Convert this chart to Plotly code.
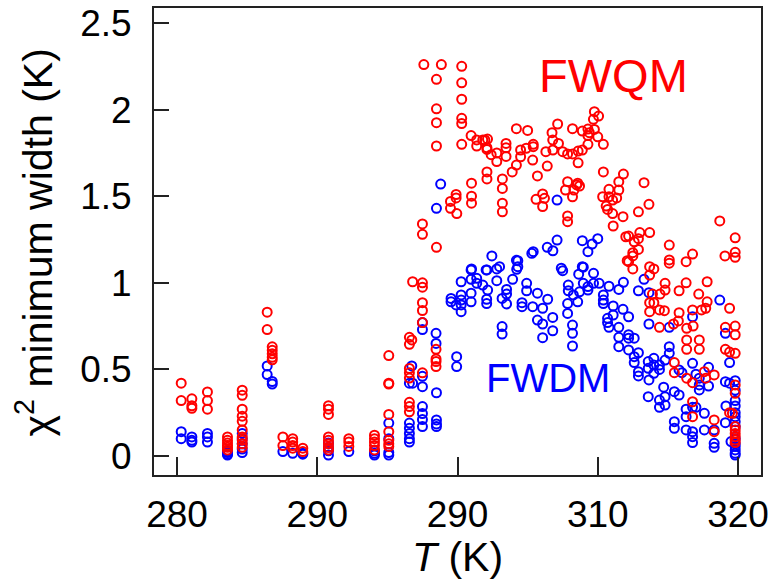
import plotly.graph_objects as go

# Tick labels (as printed on the reference)
x_tickvals = [280, 290, 300, 310, 320]
x_ticktext = ["280", "290", "290", "310", "320"]
y_tickvals = [0, 0.5, 1, 1.5, 2, 2.5]
y_ticktext = ["0", "0.5", "1", "1.5", "2", "2.5"]

# FWQM (red) points: (T, width)
fwqm_points = [
    (280.3, 0.42), (280.3, 0.32),
    (281.06, 0.33), (281.06, 0.29), (281.06, 0.275),
    (282.17, 0.37), (282.17, 0.32), (282.17, 0.27),
    (283.6, 0.11), (283.6, 0.09), (283.6, 0.075), (283.6, 0.06), (283.6, 0.05), (283.6, 0.035),
    (284.65, 0.38), (284.65, 0.35), (284.65, 0.27), (284.65, 0.23), (284.65, 0.20), (284.65, 0.15),
    (284.65, 0.11), (284.65, 0.09), (284.65, 0.07), (284.65, 0.05),
    (286.43, 0.83), (286.43, 0.73),
    (286.79, 0.63), (286.79, 0.61), (286.79, 0.59), (286.79, 0.57), (286.79, 0.555),
    (287.55, 0.11), (287.55, 0.06),
    (288.25, 0.10), (288.25, 0.08), (288.25, 0.06), (288.25, 0.045),
    (288.97, 0.045), (288.97, 0.025),
    (290.8, 0.29), (290.8, 0.27), (290.8, 0.24), (290.8, 0.11), (290.8, 0.09), (290.8, 0.07),
    (290.8, 0.05), (290.8, 0.035),
    (292.25, 0.10), (292.25, 0.08), (292.25, 0.055),
    (294.08, 0.12), (294.08, 0.10), (294.08, 0.08), (294.08, 0.06), (294.08, 0.035),
    (295.1, 0.58), (295.1, 0.42), (295.1, 0.415), (295.1, 0.24), (295.1, 0.14), (295.1, 0.09),
    (295.1, 0.07), (295.1, 0.055),
    (296.57, 0.685), (296.74, 0.67), (296.57, 0.645), (296.57, 0.505), (296.57, 0.48), (296.57, 0.45),
    (296.57, 0.31), (296.57, 0.285), (296.57, 0.255),
    (297.5, 0.885), (297.5, 0.84), (297.5, 0.77), (297.5, 0.48), (297.5, 0.975), (297.5, 1.0),
    (296.8, 1.006),
    (298.47, 0.616), (298.47, 0.56), (298.47, 0.545), (298.47, 0.516),
    (297.6, 2.26), (298.85, 2.26), (300.3, 2.25), (298.5, 2.175), (300.3, 2.155), (300.3, 2.06),
    (298.5, 2.005), (300.3, 1.95), (300.3, 1.92), (298.5, 1.925), (298.5, 1.79), (300.3, 1.80),
    (300.97, 1.85), (301.37, 1.825), (301.37, 1.79), (301.8, 1.825), (301.95, 1.825), (302.14, 1.83),
    (302.1, 1.78), (302.1, 1.77), (302.4, 1.74), (302.8, 1.75), (302.8, 1.70), (303.46, 1.805),
    (303.46, 1.78), (303.46, 1.73), (304.2, 1.89), (304.2, 1.68), (303.9, 1.64), (302.1, 1.64),
    (302.1, 1.60), (303.2, 1.60), (303.2, 1.545), (303.2, 1.46), (303.2, 1.41), (301.0, 1.575),
    (301.0, 1.50), (301.0, 1.46), (299.9, 1.51), (299.9, 1.49), (299.5, 1.47), (299.5, 1.43),
    (299.95, 1.40), (297.5, 1.34), (297.5, 1.28), (298.5, 1.205),
    (309.76, 1.988), (310.06, 1.963), (309.69, 1.944), (307.14, 1.917), (305.0, 1.88), (308.2, 1.89),
    (308.9, 1.876), (309.3, 1.888), (309.4, 1.867), (309.76, 1.886), (309.3, 1.85), (310.0, 1.843),
    (306.74, 1.867), (306.79, 1.824), (307.2, 1.805), (310.4, 1.80),
    (304.5, 1.767), (304.5, 1.728), (304.9, 1.777), (305.4, 1.80), (305.4, 1.786), (306.3, 1.757),
    (306.8, 1.767), (307.5, 1.757), (307.85, 1.744), (308.2, 1.744), (308.6, 1.761), (308.9, 1.767),
    (309.3, 1.80), (305.36, 1.709), (306.4, 1.674), (308.6, 1.693), (305.7, 1.617), (310.4, 1.64),
    (311.5, 1.584), (311.5, 1.536), (310.8, 1.54), (311.35, 1.49), (310.8, 1.497), (310.35, 1.497),
    (311.06, 1.478), (310.6, 1.443), (310.7, 1.424), (311.06, 1.40), (311.8, 1.382), (311.1, 1.328),
    (312.0, 1.266),
    (307.85, 1.584), (308.57, 1.575), (308.7, 1.559), (307.7, 1.536), (308.3, 1.536), (308.2, 1.497),
    (308.5, 1.565), (306.07, 1.513), (305.6, 1.482), (306.2, 1.488), (306.07, 1.44), (307.85, 1.386),
    (307.85, 1.353),
    (311.83, 1.628), (313.3, 1.578), (313.65, 1.453), (312.9, 1.41), (318.7, 1.357), (319.8, 1.26),
    (319.8, 1.176), (319.8, 1.147), (319.07, 1.155), (312.2, 1.27), (312.6, 1.237), (312.9, 1.255),
    (313.0, 1.29), (313.7, 1.29), (312.5, 1.174), (312.5, 1.155), (312.2, 1.122), (312.9, 1.193),
    (312.1, 1.128), (312.5, 1.08), (315.1, 1.218), (315.1, 1.132), (315.1, 1.113), (316.3, 1.122),
    (316.76, 1.166), (313.7, 1.093), (314.0, 1.08), (313.7, 1.045), (314.8, 0.997), (314.8, 0.958),
    (314.44, 0.935), (313.9, 0.935), (315.8, 0.954), (316.3, 1.00), (317.2, 0.935), (317.8, 1.006),
    (317.8, 0.89), (317.7, 0.853), (317.4, 0.843), (316.76, 0.843), (315.8, 0.827), (319.4, 0.853),
    (313.7, 0.885), (314.0, 0.885), (313.7, 0.833), (314.4, 0.843), (314.75, 0.839),
    (315.75, 0.78), (314.4, 0.743), (315.4, 0.762), (316.34, 0.737), (316.8, 0.75), (319.1, 0.743),
    (319.8, 0.75), (319.8, 0.70), (319.1, 0.616), (319.4, 0.60), (319.8, 0.593), (316.34, 0.67),
    (317.24, 0.67), (316.34, 0.616), (317.24, 0.616), (315.46, 0.539), (315.46, 0.481),
    (316.34, 0.449), (316.76, 0.423), (317.6, 0.487), (317.7, 0.449), (318.3, 0.468), (319.8, 0.41),
    (319.8, 0.362), (319.4, 0.25), (319.6, 0.246), (316.76, 0.313), (316.76, 0.227), (318.3, 0.208),
    (318.3, 0.14), (319.8, 0.17), (319.8, 0.15), (319.8, 0.13), (319.8, 0.111), (319.8, 0.092),
    (319.8, 0.077),
]

# FWDM (blue) points: (T, width)
fwdm_points = [
    (280.3, 0.14), (280.3, 0.10),
    (281.06, 0.11), (281.06, 0.09), (281.06, 0.08),
    (282.17, 0.13), (282.17, 0.11), (282.17, 0.08),
    (283.6, 0.03), (283.6, 0.02), (283.6, 0.01), (283.6, 0.005),
    (284.65, 0.13), (284.65, 0.10), (284.65, 0.07), (284.65, 0.04), (284.65, 0.02),
    (286.43, 0.52), (286.43, 0.47), (286.79, 0.43), (286.79, 0.415),
    (287.55, 0.025), (288.25, 0.015), (288.97, 0.015), (288.97, 0.01),
    (290.8, 0.075), (290.8, 0.05), (290.8, 0.03), (290.8, 0.005),
    (292.25, 0.025),
    (294.08, 0.03), (294.08, 0.015), (294.08, 0.005),
    (295.1, 0.19), (295.1, 0.10), (295.1, 0.02), (295.1, 0.005),
    (296.57, 0.19), (296.57, 0.16), (296.57, 0.13), (296.57, 0.10), (296.57, 0.08),
    (296.74, 0.52), (296.57, 0.42), (296.8, 0.42),
    (297.5, 0.77), (297.5, 0.73), (297.5, 0.46), (297.5, 0.40), (297.5, 0.285), (297.5, 0.245),
    (297.5, 0.21), (297.5, 0.17),
    (298.5, 0.365), (298.5, 0.208), (298.5, 0.185), (298.5, 0.17), (298.47, 0.708), (298.47, 0.65),
    (298.5, 1.43), (298.8, 1.57),
    (302.45, 1.155), (304.2, 1.13), (301.0, 1.08), (302.1, 1.074), (302.8, 1.08),
    (307.1, 1.478), (307.1, 1.247), (306.4, 1.205), (306.8, 1.185), (305.4, 1.18), (305.3, 1.17),
    (308.9, 1.243), (309.6, 1.224), (310.0, 1.255), (309.3, 1.18), (304.3, 1.128), (304.3, 1.093),
    (303.0, 1.093), (307.4, 1.084), (308.9, 1.093),
    (313.3, 1.02), (312.9, 0.954), (313.65, 0.943), (311.83, 1.003), (311.5, 0.962), (310.8, 0.98),
    (310.1, 0.997), (310.4, 0.93), (310.4, 0.90), (310.4, 0.88), (311.1, 0.866), (311.8, 0.847),
    (311.1, 0.814), (312.2, 0.804), (316.76, 0.804), (318.7, 0.90),
    (299.94, 0.573), (299.94, 0.516), (299.54, 0.91), (299.54, 0.89), (299.9, 0.872),
    (300.26, 0.93), (300.26, 0.90), (300.26, 0.872), (300.26, 0.833), (300.97, 0.94), (300.97, 0.89),
    (300.26, 1.006), (300.97, 1.074), (300.97, 1.02), (301.37, 1.026), (301.37, 0.997), (301.8, 0.987),
    (302.15, 0.958), (302.04, 1.074), (302.8, 1.012), (302.08, 0.905), (302.08, 0.88), (303.18, 0.91),
    (303.5, 0.962), (303.5, 0.935), (303.5, 0.878), (303.93, 1.02), (304.22, 1.078), (304.93, 0.997),
    (304.93, 0.954), (304.6, 0.885), (304.6, 0.862), (305.36, 0.862), (305.7, 0.94), (306.43, 0.905),
    (306.07, 0.853), (305.7, 0.785), (306.07, 0.762), (306.79, 0.80), (306.79, 0.723), (306.07, 0.683),
    (307.5, 1.07), (307.9, 0.987), (307.9, 0.954), (307.85, 0.88), (307.85, 0.823), (308.26, 0.93),
    (308.57, 0.89), (308.7, 0.948), (308.97, 1.09), (308.64, 1.05), (309.3, 0.978), (309.3, 0.958),
    (308.2, 0.756), (308.2, 0.708), (308.2, 0.635), (303.18, 0.747), (303.18, 0.704),
    (309.7, 1.055), (309.7, 0.997), (308.97, 0.997), (310.7, 0.795), (310.7, 0.77), (310.8, 0.743),
    (311.5, 0.743), (311.5, 0.685), (311.5, 0.631), (312.2, 0.70), (312.2, 0.68), (312.6, 0.68),
    (312.2, 0.612), (312.6, 0.573), (312.6, 0.539), (312.9, 0.596), (312.9, 0.487), (312.9, 0.462),
    (313.65, 0.762), (313.6, 0.545), (314.0, 0.564), (314.0, 0.525), (313.6, 0.506), (314.4, 0.525),
    (314.4, 0.50), (314.8, 0.554), (315.1, 0.593), (315.1, 0.631), (313.65, 0.439), (314.7, 0.397),
    (313.6, 0.342), (314.4, 0.323), (314.4, 0.281), (314.8, 0.294), (314.8, 0.342), (315.46, 0.371),
    (315.8, 0.352), (315.8, 0.497), (316.0, 0.481), (316.76, 0.535), (316.3, 0.27), (316.3, 0.227),
    (317.0, 0.281), (317.6, 0.246), (316.76, 0.14), (316.76, 0.111), (316.76, 0.077), (316.3, 0.15),
    (315.46, 0.198), (315.46, 0.16), (318.3, 0.073), (318.3, 0.05), (318.3, 0.15), (319.1, 0.192),
    (319.14, 0.289), (319.8, 0.289), (319.8, 0.25), (319.8, 0.227), (319.8, 0.198), (319.8, 0.17),
    (319.5, 0.083), (319.8, 0.10), (319.8, 0.07), (319.8, 0.054), (319.8, 0.035), (319.8, 0.016),
    (319.8, 0.005), (315.1, 0.743), (319.1, 0.429), (319.4, 0.42), (319.8, 0.435), (319.8, 0.38),
    (319.8, 0.32), (317.24, 0.449), (317.24, 0.41), (317.9, 0.404), (317.9, 0.512), (317.24, 0.381),
    (317.0, 0.472), (319.1, 0.708), (319.4, 0.539), (314.0, 0.477), (316.76, 0.281), (317.6, 0.15),
]

fwqm_T = [p[0] for p in fwqm_points]
fwqm_W = [p[1] for p in fwqm_points]
fwdm_T = [p[0] for p in fwdm_points]
fwdm_W = [p[1] for p in fwdm_points]

FONT = "Liberation Sans, Arial, sans-serif"
RED = "#ff0000"
BLUE = "#0000ff"
AXC = "#222222"

fig = go.Figure()
fig.add_trace(go.Scatter(
    x=fwdm_T, y=fwdm_W, mode="markers", name="FWDM",
    marker=dict(symbol="circle-open", size=9, color=BLUE, line=dict(width=2, color=BLUE)),
))
fig.add_trace(go.Scatter(
    x=fwqm_T, y=fwqm_W, mode="markers", name="FWQM",
    marker=dict(symbol="circle-open", size=9, color=RED, line=dict(width=2, color=RED)),
))

# series labels
fig.add_annotation(x=311.15, y=2.2, text="FWQM", showarrow=False,
                   font=dict(family=FONT, size=47, color=RED), xref="x", yref="y")
fig.add_annotation(x=306.48, y=0.45, text="FWDM", showarrow=False,
                   font=dict(family=FONT, size=40, color=BLUE), xref="x", yref="y")

# axis titles
fig.add_annotation(xref="paper", yref="paper", x=0, y=0.5, xanchor="center", yanchor="middle",
                   xshift=-120, yshift=-1, textangle=-90, showarrow=False,
                   text="χ<sup>2</sup> minimum width (K)",
                   font=dict(family=FONT, size=41, color="black"))
fig.add_annotation(xref="paper", yref="paper", x=0.5, y=0, xanchor="center", yanchor="middle",
                   yshift=-82, showarrow=False, text="<i>T</i> (K)",
                   font=dict(family=FONT, size=41, color="black"))

fig.update_layout(
    width=777, height=585,
    margin=dict(l=154, r=16, t=8, b=110, autoexpand=False),
    paper_bgcolor="white", plot_bgcolor="white",
    showlegend=False,
    hovermode=False,
    font=dict(family=FONT, size=36, color="black"),
    xaxis=dict(
        range=[278.36, 321.64],
        tickvals=x_tickvals, ticktext=x_ticktext,
        ticks="inside", ticklen=18, tickwidth=2, tickcolor=AXC,
        showline=True, linewidth=2, linecolor=AXC, mirror=True,
        showgrid=False, zeroline=False, automargin=False,
        ticklabelstandoff=6,
        tickfont=dict(family=FONT, size=37, color="black"),
    ),
    yaxis=dict(
        range=[-0.11, 2.587],
        tickvals=y_tickvals, ticktext=y_ticktext,
        ticks="inside", ticklen=15, tickwidth=2, tickcolor=AXC,
        showline=True, linewidth=2, linecolor=AXC, mirror=True,
        showgrid=False, zeroline=False, automargin=False,
        ticklabelstandoff=13,
        tickfont=dict(family=FONT, size=37, color="black"),
    ),
)

fig.write_html("out.html", config={"displayModeBar": False},
               post_script="document.body.style.margin='0px';")
